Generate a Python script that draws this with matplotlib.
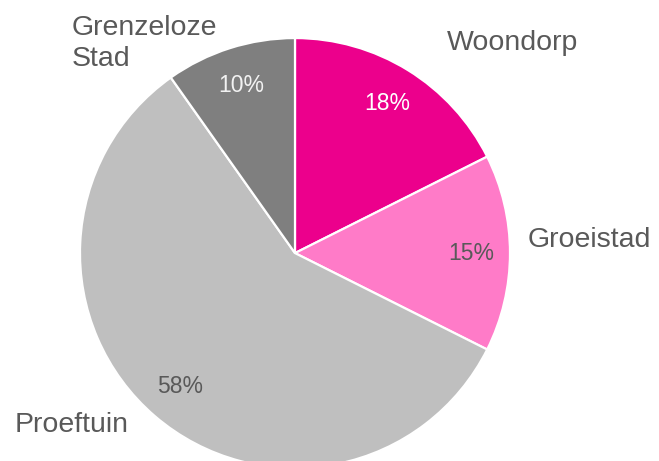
import matplotlib

matplotlib.use("Agg")
import matplotlib.pyplot as plt

plt.rcParams["font.family"] = ["Liberation Sans", "DejaVu Sans"]

LABELS = ["Woondorp", "Groeistad", "Proeftuin", "Grenzeloze\nStad"]
SHARES = [17.6, 14.8, 57.8, 9.8]
COLORS = ["#EC008C", "#FF7BC8", "#BFBFBF", "#7F7F7F"]
PCT_COLORS = ["white", "#595959", "#595959", "#F2F2F2"]
TEXT = "#595959"

# label anchor (x, y, ha) relative to pie centre, radius = 1
LABEL_POS = [(1.014, 0.977, "center"), (1.084, 0.06, "left"),
             (-1.302, -0.80, "left"), (-1.037, 0.975, "left")]


def main() -> None:
    fig = plt.figure(figsize=(6.59, 4.61), dpi=100)
    ax = fig.add_axes([0, 0, 1, 1])
    wedges, texts, autotexts = ax.pie(
        SHARES,
        labels=LABELS,
        colors=COLORS,
        startangle=90,
        counterclock=False,
        autopct="%1.0f%%",
        pctdistance=0.82,
        wedgeprops={"edgecolor": "white", "linewidth": 1.6},
        textprops={"fontsize": 20.5, "color": TEXT},
    )
    for t, (x, y, ha) in zip(texts, LABEL_POS):
        t.set_position((x, y))
        t.set_ha(ha)
        t.set_va("center")
        t.set_linespacing(1.25)
    for t, c in zip(autotexts, PCT_COLORS):
        t.set_color(c)
        t.set_fontsize(16.5)
    ax.set_xlim(-1.372, 1.693)
    ax.set_ylim(-0.967, 1.177)
    ax.set_aspect("auto")
    ax.axis("off")
    fig.savefig("out.png", dpi=100)
    plt.close(fig)


if __name__ == "__main__":
    main()
